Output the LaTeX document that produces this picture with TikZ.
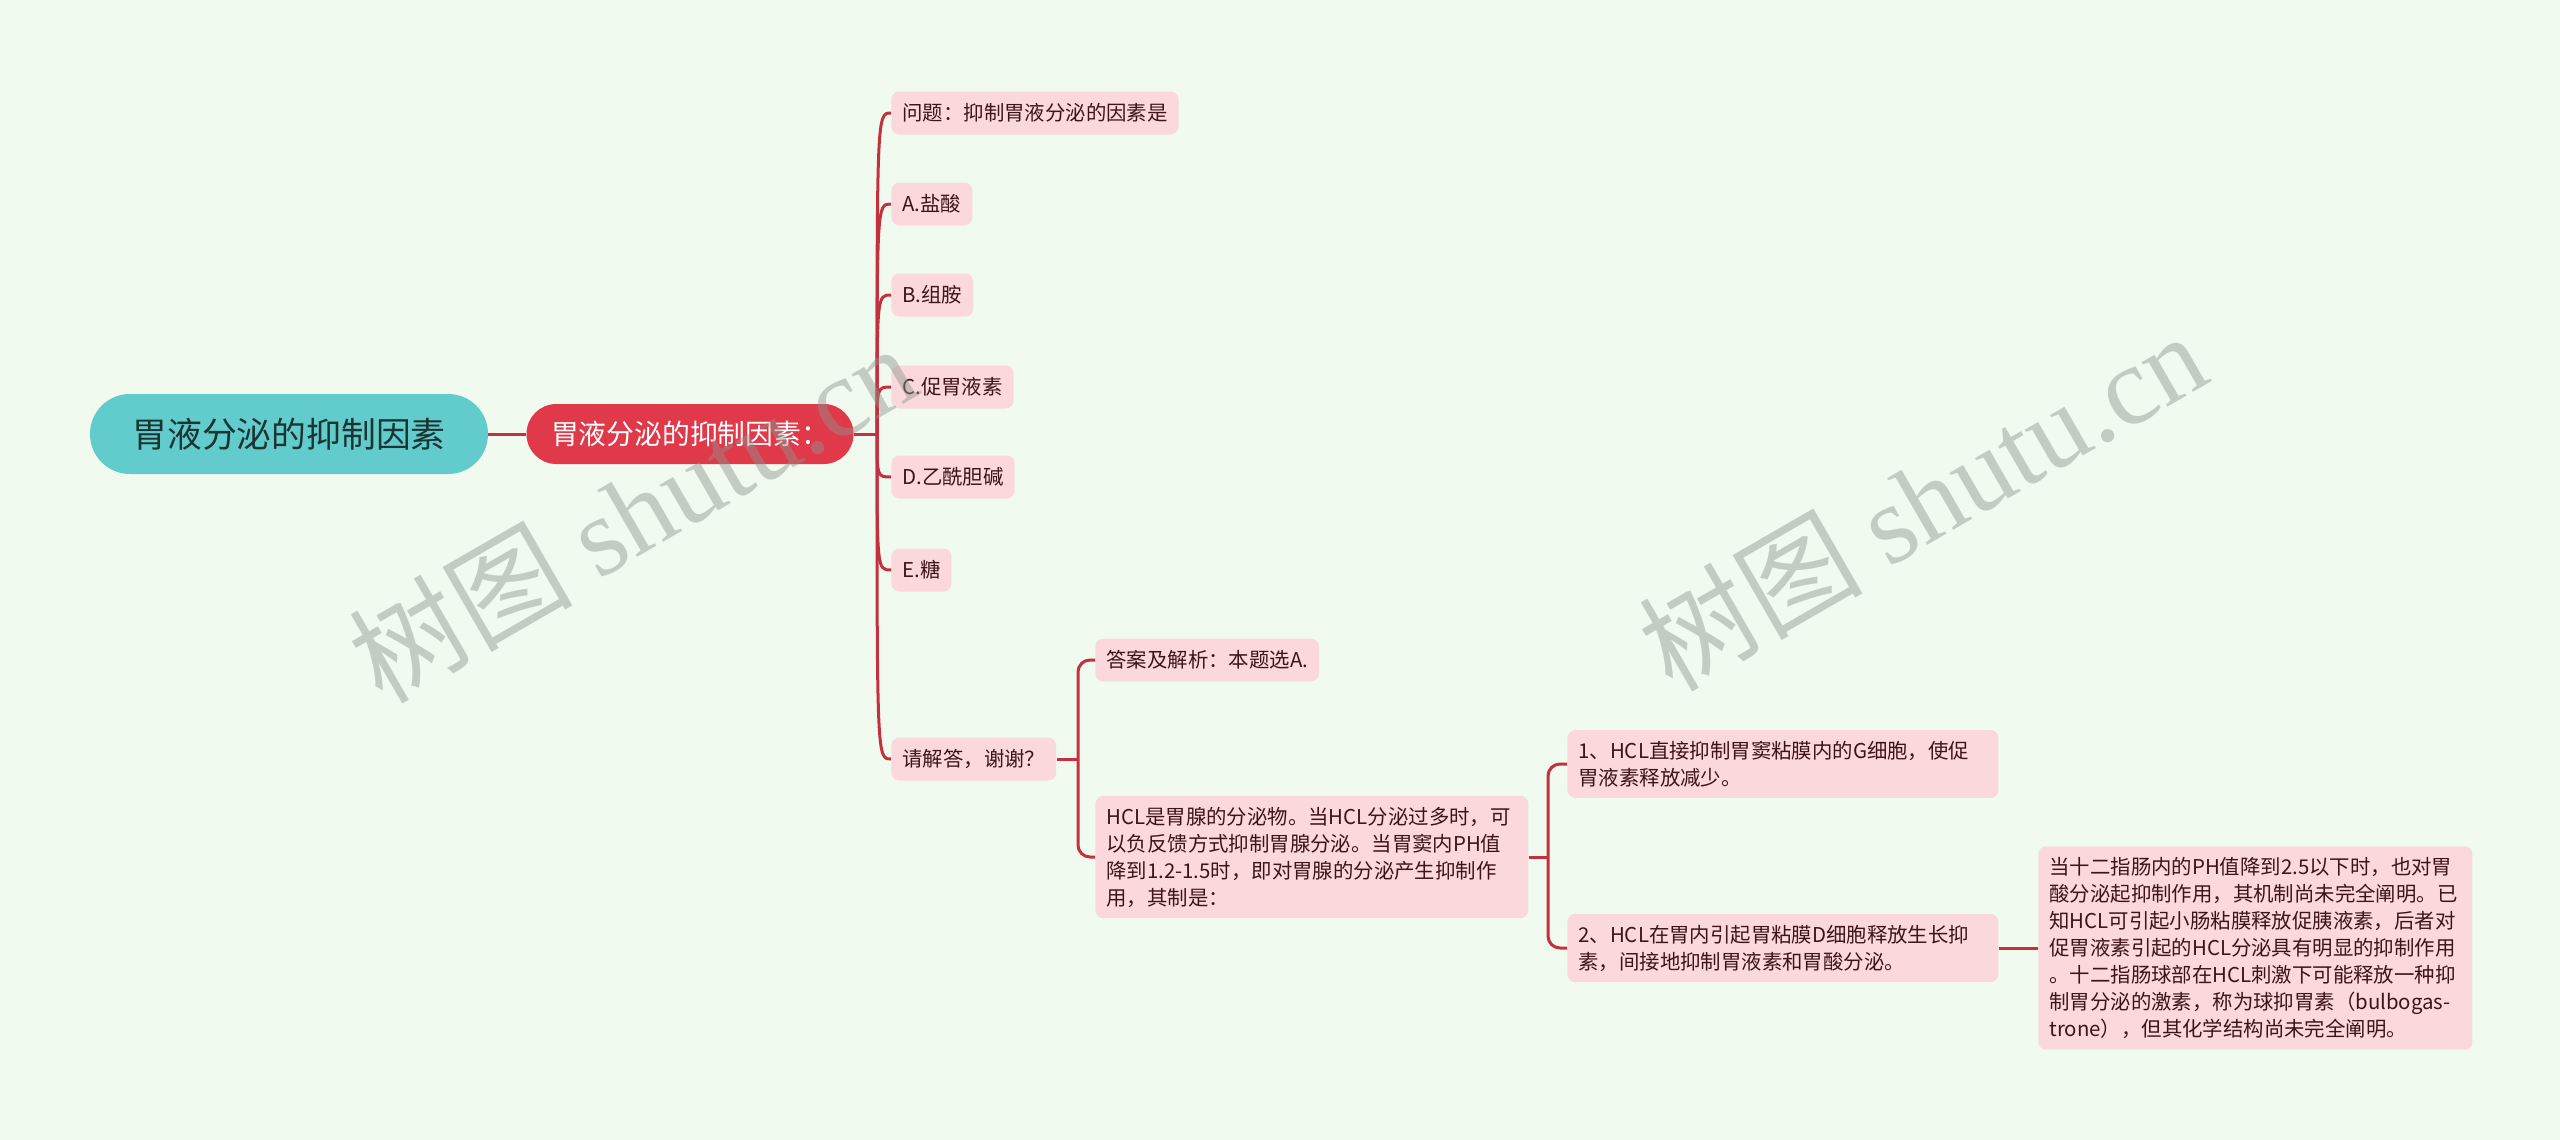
\documentclass[tikz,border=0pt]{standalone}
\usepackage{fontspec}
\setmainfont{Noto Sans CJK SC}
\newfontfamily\wmserif{Liberation Serif}
\usepackage{xcolor}
\usepackage{tikz}

\definecolor{bgcol}{HTML}{F0FAEF}
\definecolor{rootfill}{HTML}{62CBCB}
\definecolor{roottext}{HTML}{1B3434}
\definecolor{mainfill}{HTML}{E0394A}
\definecolor{leaffill}{HTML}{FAD8DC}
\definecolor{leaftext}{HTML}{3D1518}
\definecolor{linecol}{HTML}{C5303E}
\definecolor{wmcol}{HTML}{8E968E}

\exhyphenpenalty=10000
\hyphenpenalty=10000

\begin{document}
\begin{tikzpicture}[x=0.5pt, y=-0.5pt,
    link/.style={draw=linecol, line width=1.5pt},
    leaf/.style={fill=leaffill, text=leaftext, rounded corners=4pt, anchor=west, align=left,
        inner xsep=5.5pt, inner ysep=5.5pt, minimum height=21.5pt,
        font=\fontsize{10.2}{13.5}\selectfont},
    watermark/.style={text=wmcol, opacity=0.45, rotate=30, font=\fontsize{56}{60}\selectfont}]

    \fill [bgcol] (0, 0) rectangle (2560, 1140);
    \useasboundingbox (0, 0) rectangle (2560, 1140);

    \node (root) [fill=rootfill, text=roottext, rounded corners=19.9pt, minimum width=199pt, minimum height=40pt,
        font=\fontsize{17.4}{20}\selectfont] at (289, 434) {胃液分泌的抑制因素};
    \node (main) [fill=mainfill, text=white, rounded corners=14.9pt, minimum width=163.5pt, minimum height=30pt,
        font=\fontsize{13.9}{16}\selectfont] at (690, 434) {胃液分泌的抑制因素：};

    \node (q) [leaf] at (891, 113) {问题：抑制胃液分泌的因素是};
    \node (a) [leaf] at (891, 204) {A.盐酸};
    \node (b) [leaf] at (891, 295) {B.组胺};
    \node (c) [leaf] at (891, 387) {C.促胃液素};
    \node (d) [leaf] at (891, 477) {D.乙酰胆碱};
    \node (e) [leaf] at (891, 570) {E.糖};
    \node (ask) [leaf] at (891, 759) {请解答，谢谢？};

    \node (ans) [leaf] at (1095, 660) {答案及解析：本题选A.};
    \node (hcl) [leaf, text width=205.5pt] at (1095, 857) {HCL是胃腺的分泌物。当HCL分泌过多时，可\\以负反馈方式抑制胃腺分泌。当胃窦内PH值\\降到1.2-1.5时，即对胃腺的分泌产生抑制作\\用，其制是：};

    \node (mech1) [leaf, text width=204.5pt] at (1567, 764) {1、HCL直接抑制胃窦粘膜内的G细胞，使促\\胃液素释放减少。};
    \node (mech2) [leaf, text width=204.5pt] at (1567, 948) {2、HCL在胃内引起胃粘膜D细胞释放生长抑\\素，间接地抑制胃液素和胃酸分泌。};

    \node (duo) [leaf, text width=206pt] at (2038, 948) {当十二指肠内的PH值降到2.5以下时，也对胃\\酸分泌起抑制作用，其机制尚未完全阐明。已\\知HCL可引起小肠粘膜释放促胰液素，后者对\\促胃液素引起的HCL分泌具有明显的抑制作用\\。十二指肠球部在HCL刺激下可能释放一种抑\\制胃分泌的激素，称为球抑胃素（bulbogas-\\trone），但其化学结构尚未完全阐明。};

    \coordinate (t1) at (877, 434);
    \coordinate (t2) at (1078, 759);
    \coordinate (t3) at (1548, 857);

    \draw [link] (root.east) -- (main.west);
    \draw [link] (main.east) -- (t1);
    \foreach \n in {q, a, b, c, d, e, ask}
        \draw [link] (t1) .. controls (t1 |- \n.west) .. (\n.west);

    \draw [link] (ask.east) -- (t2);
    \draw [link, rounded corners=6pt] (t2) |- (ans.west);
    \draw [link, rounded corners=6pt] (t2) |- (hcl.west);

    \draw [link] (hcl.east) -- (t3);
    \draw [link, rounded corners=6pt] (t3) |- (mech1.west);
    \draw [link, rounded corners=6pt] (t3) |- (mech2.west);

    \draw [link] (mech2.east) -- (duo.west);

    \node (wm1) [watermark] at (632, 512) {树图 {\wmserif shutu.cn}};
    \node (wm2) [watermark] at (1922, 500) {树图 {\wmserif shutu.cn}};
\end{tikzpicture}
\end{document}
